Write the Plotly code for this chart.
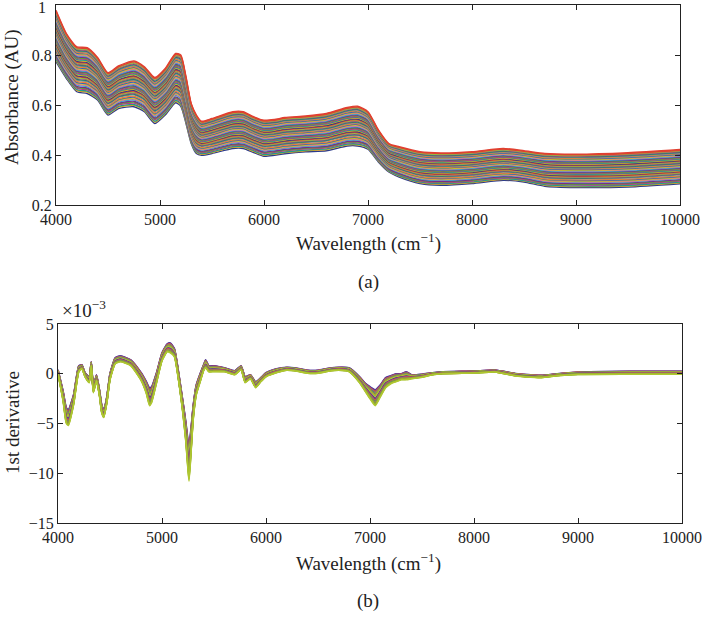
import plotly.graph_objects as go

# ---------------- data ----------------
wn_a = [4000, 4100, 4200, 4300, 4400, 4500, 4600, 4750, 4850, 4950, 5050, 5150, 5200, 5250,
        5300, 5350, 5400, 5500, 5700, 5800, 5900, 6000, 6100, 6200, 6400, 6600, 6800, 6900,
        7000, 7100, 7200, 7300, 7500, 7700, 8000, 8300, 8500, 8700, 9000, 9500, 10000]
abs_top = [0.979, 0.886, 0.833, 0.829, 0.790, 0.729, 0.756, 0.776, 0.753, 0.710, 0.746, 0.806, 0.800, 0.713,
           0.606, 0.560, 0.535, 0.546, 0.573, 0.573, 0.553, 0.539, 0.542, 0.550, 0.556, 0.566, 0.590, 0.595,
           0.573, 0.500, 0.446, 0.433, 0.413, 0.408, 0.413, 0.426, 0.417, 0.406, 0.403, 0.409, 0.422]
abs_bottom = [0.773, 0.706, 0.653, 0.646, 0.620, 0.560, 0.586, 0.593, 0.573, 0.526, 0.560, 0.609, 0.595, 0.526,
              0.446, 0.406, 0.399, 0.406, 0.426, 0.426, 0.410, 0.395, 0.399, 0.405, 0.413, 0.417, 0.436, 0.436,
              0.423, 0.372, 0.332, 0.312, 0.286, 0.279, 0.286, 0.299, 0.292, 0.275, 0.270, 0.272, 0.285]
# relative position of each sample between the lowest and highest spectrum
sample_pos_a = [0.00, 0.03, 0.05, 0.08, 0.10, 0.12, 0.15, 0.17, 0.19, 0.21, 0.23, 0.26, 0.28, 0.30,
                0.32, 0.34, 0.36, 0.38, 0.40, 0.42, 0.44, 0.46, 0.48, 0.50, 0.52, 0.54, 0.56, 0.58,
                0.60, 0.62, 0.64, 0.66, 0.68, 0.70, 0.72, 0.74, 0.76, 0.78, 0.80, 0.82, 0.84, 0.86,
                0.88, 0.90, 0.92, 0.94, 0.96, 0.98, 1.00]

wn_b = [4000, 4050, 4080, 4100, 4150, 4200, 4230, 4260, 4300, 4320, 4340, 4370, 4400, 4420, 4440,
        4470, 4500, 4550, 4600, 4700, 4800, 4850, 4880, 4900, 4950, 5000, 5050, 5080, 5120, 5150,
        5200, 5230, 5250, 5260, 5280, 5300, 5330, 5370, 5400, 5420, 5450, 5500, 5600, 5700, 5760,
        5800, 5850, 5900, 5950, 6000, 6100, 6200, 6300, 6400, 6500, 6600, 6700, 6800, 6900, 6950,
        7000, 7050, 7100, 7150, 7200, 7250, 7300, 7350, 7400, 7500, 7600, 7700, 8000, 8200, 8400,
        8500, 8650, 8800, 9000, 9500, 10000]
deriv_mean = [0.2, -2.3, -4.2, -4.4, -2.6, 0.5, 0.7, -0.1, -0.6, 1.0, -1.6, -0.4, -2.0, -3.5, -4.0,
              -2.6, -0.3, 1.3, 1.5, 1.1, -0.3, -1.4, -2.3, -2.1, -0.3, 1.7, 2.6, 2.6, 2.1, 0.4,
              -3.3, -5.9, -8.2, -9.0, -6.6, -3.9, -1.6, -0.3, 0.6, 1.0, 0.5, 0.5, 0.4, 0.1, 0.6,
              -0.6, -0.3, -1.1, -0.6, -0.1, 0.3, 0.5, 0.4, 0.2, 0.2, 0.4, 0.5, 0.4, -0.6, -1.3,
              -1.9, -2.4, -1.7, -0.9, -0.6, -0.4, -0.3, -0.2, -0.3, -0.2, 0.0, 0.1, 0.17, 0.27, -0.1,
              -0.2, -0.27, -0.1, 0.05, 0.1, 0.1]
deriv_spread = [0.2, 0.5, 0.8, 0.8, 0.5, 0.3, 0.2, 0.2, 0.3, 0.2, 0.3, 0.3, 0.3, 0.4, 0.4,
                0.3, 0.3, 0.3, 0.3, 0.3, 0.4, 0.6, 0.9, 0.8, 0.5, 0.4, 0.4, 0.5, 0.4, 0.4,
                0.6, 1.0, 1.5, 1.8, 1.2, 0.7, 0.5, 0.4, 0.3, 0.4, 0.3, 0.3, 0.2, 0.2, 0.2,
                0.3, 0.2, 0.3, 0.2, 0.2, 0.2, 0.15, 0.15, 0.15, 0.15, 0.15, 0.15, 0.2, 0.3, 0.4,
                0.6, 0.8, 0.6, 0.5, 0.4, 0.4, 0.3, 0.4, 0.2, 0.15, 0.1, 0.1, 0.1, 0.1, 0.12,
                0.12, 0.12, 0.1, 0.12, 0.15, 0.15]
sample_pos_b = [1.0, 0.9, 0.8, 0.7, 0.6, 0.5, 0.4, 0.3, 0.2, 0.1, 0.0, -0.1, -0.2, -0.3,
                -0.4, -0.5, -0.6, -0.7, -0.8, -0.9, -1.0]

xticks = [4000, 5000, 6000, 7000, 8000, 9000, 10000]
xtick_text = ["4000", "5000", "6000", "7000", "8000", "9000", "10000"]
yticks_a = [0.2, 0.4, 0.6, 0.8, 1]
ytick_a_text = ["0.2", "0.4", "0.6", "0.8", "1"]
yticks_b = [5, 0, -5, -10, -15]
ytick_b_text = ["5", "0", "−5", "−10", "−15"]

palette = ["#2b3a8c", "#e0a020", "#1aa08a", "#c03090", "#5aa832", "#7a2a8a", "#30a8c8",
           "#e070a0", "#c8c020", "#3060c0", "#f08030", "#888888", "#20806a", "#a05080",
           "#90c040", "#e04030"]
palette_b = ["#3a3a9a", "#6a3a9a", "#c04060", "#e06040", "#2a8a8a", "#e08040", "#3a9a5a",
             "#d0a030", "#8ab030", "#b0c830", "#c8d040"]

FONT = "Liberation Serif"
W, H = 702, 617

fig = go.Figure()

n_a = len(sample_pos_a)
for i, p in enumerate(sample_pos_a):
    ys = [b + p * (t - b) for b, t in zip(abs_bottom, abs_top)]
    col = palette[i % len(palette)]
    if i == 0:
        col = "#2b3a8c"
    if i == n_a - 1:
        col = "#e04030"
    fig.add_trace(go.Scatter(x=wn_a, y=ys, mode="lines",
                             line=dict(color=col, width=1.4, shape="spline", smoothing=0.6),
                             xaxis="x", yaxis="y", showlegend=False, hoverinfo="skip"))

for i, p in enumerate(sample_pos_b):
    ys = [m + p * s for m, s in zip(deriv_mean, deriv_spread)]
    fig.add_trace(go.Scatter(x=wn_b, y=ys, mode="lines",
                             line=dict(color=palette_b[i % len(palette_b)], width=1.6,
                                       shape="spline", smoothing=0.5),
                             xaxis="x2", yaxis="y2", showlegend=False, hoverinfo="skip"))

def px_x(p):
    return p / W

def px_y(p):
    return 1 - p / H

axis_common = dict(showgrid=False, zeroline=False, showline=True, linecolor="#222",
                   linewidth=1, mirror="ticks", ticks="inside", ticklen=5, automargin=False,
                   tickcolor="#222", tickfont=dict(family=FONT, size=16, color="#222"))

fig.update_layout(
    width=W, height=H, margin=dict(l=0, r=0, t=0, b=0, autoexpand=False),
    paper_bgcolor="white", plot_bgcolor="white",
    xaxis=dict(domain=[px_x(56), px_x(680)], range=[4000, 10000], tickvals=xticks,
               ticktext=xtick_text, anchor="y", **axis_common),
    yaxis=dict(domain=[px_y(205), px_y(5)], range=[0.2, 1], tickvals=yticks_a,
               ticktext=ytick_a_text, anchor="x", **axis_common),
    xaxis2=dict(domain=[px_x(58), px_x(682)], range=[4000, 10000], tickvals=xticks,
                ticktext=xtick_text, anchor="y2", **axis_common),
    yaxis2=dict(domain=[px_y(523), px_y(324)], range=[-15, 5], tickvals=yticks_b,
                ticktext=ytick_b_text, anchor="x2", **axis_common),
)

ann_font = dict(family=FONT, size=19, color="#222")
anns = [
    dict(x=px_x(368), y=px_y(242), text="Wavelength (cm<sup>−1</sup>)"),
    dict(x=px_x(368), y=px_y(282), text="(a)"),
    dict(x=px_x(368), y=px_y(562), text="Wavelength (cm<sup>−1</sup>)"),
    dict(x=px_x(368), y=px_y(601), text="(b)"),
    dict(x=px_x(12), y=px_y(97), text="Absorbance (AU)", textangle=-90),
    dict(x=px_x(12), y=px_y(423), text="1st derivative", textangle=-90),
    dict(x=px_x(84), y=px_y(309), text="×10<sup>−3</sup>"),
]
for a in anns:
    fig.add_annotation(xref="paper", yref="paper", showarrow=False,
                       xanchor="center", yanchor="middle", font=ann_font, **a)
# top "1" tick label sits at the very edge of the page; draw it explicitly
fig.add_annotation(xref="paper", yref="paper", showarrow=False, x=px_x(48), y=px_y(-3),
                   xanchor="right", yanchor="top", text=ytick_a_text[-1],
                   font=dict(family=FONT, size=16, color="#222"))

fig.write_html("out.html", config={"displayModeBar": False},
               post_script="document.body.style.margin='0';")
